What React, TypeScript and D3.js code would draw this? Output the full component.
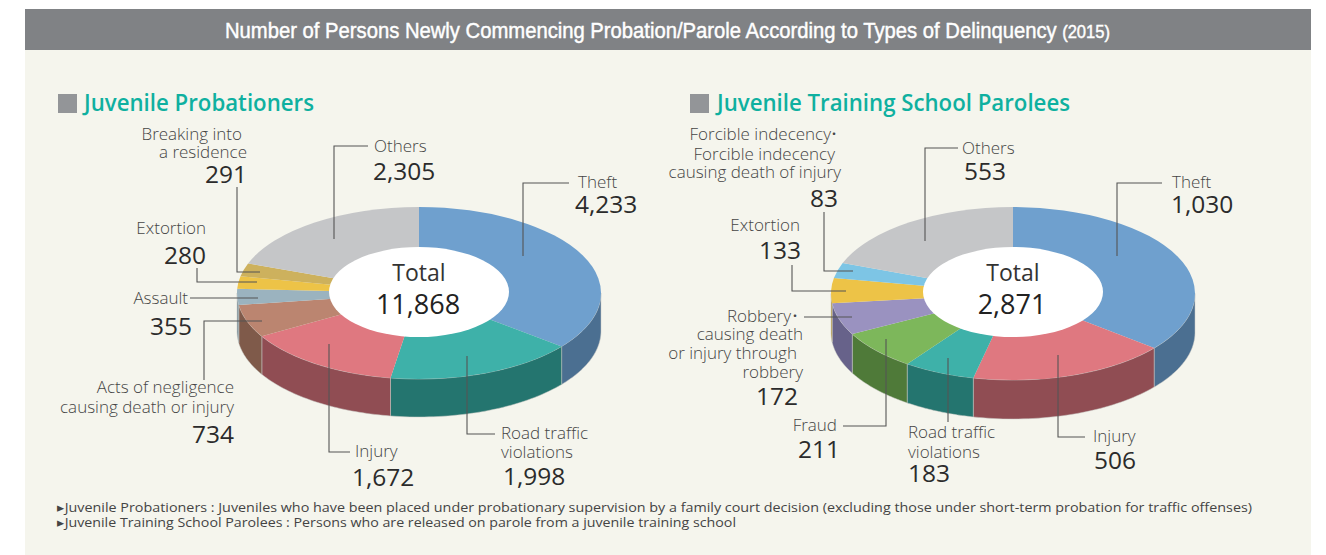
import React from "react";
import * as d3 from "d3";

const leftNames = ["Theft", "Road traffic", "Injury", "Negligence", "Assault", "Extortion", "Breaking", "Others"];
const leftValues = [4233, 1998, 1672, 734, 355, 280, 291, 2305];
const leftTop = ["#6fa0ce", "#3eb1a9", "#df7880", "#bb8570", "#9bb3bf", "#edc347", "#cdb15d", "#c5c6c8"];
const leftSide = ["#4b6f91", "#24756f", "#904d53", "#7f5a4a", "#7d929c", "#b8963a", "#a08a48", "#97989a"];

const rightNames = ["Theft", "Injury", "Road traffic", "Fraud", "Robbery", "Extortion", "Forcible", "Others"];
const rightValues = [1030, 506, 183, 211, 172, 133, 83, 553];
const rightTop = ["#6fa0ce", "#df7880", "#3eb1a9", "#7db75b", "#9a92c0", "#edc347", "#7dc5e5", "#c5c6c8"];
const rightSide = ["#4b6f91", "#904d53", "#24756f", "#4f7a39", "#67628a", "#b8963a", "#5f98b0", "#97989a"];

const SANS = "'Open Sans', 'Noto Sans', sans-serif";
const INK = "#454545";
const NUM = "#2b2b2b";

type T = [string, number, number, "start" | "end" | "middle"];
const leftLabels: T[] = [
  ["Breaking into", 242, 140, "end"], ["a residence", 247, 158, "end"],
  ["Extortion", 206, 234, "end"], ["Assault", 188, 304, "end"],
  ["Acts of negligence", 234, 393, "end"], ["causing death or injury", 234, 413, "end"],
  ["Injury", 355, 457, "start"], ["Road traffic", 501, 439, "start"], ["violations", 501, 458, "start"],
  ["Theft", 578, 188, "start"], ["Others", 374, 152, "start"],
];
const leftNums: T[] = [
  ["291", 247, 183, "end"], ["280", 206, 264, "end"], ["355", 192, 335, "end"], ["734", 234, 443, "end"],
  ["1,672", 352, 486, "start"], ["1,998", 503, 485, "start"], ["4,233", 575, 213, "start"], ["2,305", 373, 180, "start"],
];
const rightLabels: T[] = [
  ["Forcible indecency", 831, 140, "end"], ["Forcible indecency", 835, 160, "end"], ["causing death of injury", 841, 178, "end"],
  ["Extortion", 800, 231, "end"], ["Robbery", 791, 322, "end"], ["causing death", 803, 340, "end"],
  ["or injury through", 797, 359, "end"], ["robbery", 803, 378, "end"], ["Fraud", 837, 431, "end"],
  ["Road traffic", 908, 438, "start"], ["violations", 908, 458, "start"], ["Injury", 1093, 442, "start"],
  ["Theft", 1172, 188, "start"], ["Others", 962, 154, "start"],
];
const rightDots: T[] = [["・", 834, 139, "middle"], ["・", 795, 321, "middle"]];
const rightNums: T[] = [
  ["83", 838, 207, "end"], ["133", 801, 259, "end"], ["172", 798, 405, "end"], ["211", 840, 458, "end"],
  ["183", 908, 482, "start"], ["506", 1094, 469, "start"], ["1,030", 1171, 213, "start"], ["553", 964, 180, "start"],
];
const leaders: [number, number][][] = [
  [[569, 183], [523, 183], [523, 256]], [[368, 146], [334, 146], [334, 239]],
  [[237, 187], [237, 272], [260, 272]], [[197, 268], [197, 282], [257, 282]],
  [[190, 298], [258, 298]], [[204, 380], [204, 321], [262, 321]],
  [[329, 344], [329, 452], [350, 452]], [[467, 356], [467, 434], [495, 434]],
  [[1162, 183], [1117, 183], [1117, 256]], [[958, 148], [925, 148], [925, 241]],
  [[824, 212], [824, 271], [853, 271]], [[792, 265], [792, 291], [846, 291]],
  [[804, 317], [852, 317]], [[843, 426], [886, 426], [886, 339]],
  [[948, 358], [948, 422]], [[1058, 355], [1058, 437], [1085, 437]],
];

const RX = 182, HRX = 90, HRY = 45;

function Pie({ cx, cy, ry, depth, values, top, side, total }: { cx: number; cy: number; ry: number; depth: number; values: number[]; top: string[]; side: string[]; total: string }) {
  const arcs = d3.pie<number>().sort(null)(values);
  const arc = d3.arc<d3.PieArcDatum<number>>().innerRadius(0).outerRadius(RX);
  const px = d3.scaleLinear().domain([-1, 1]).range([cx - RX, cx + RX]);
  const py = d3.scaleLinear().domain([-1, 1]).range([cy - ry, cy + ry]);
  const line = d3.line<number[]>();
  const walls = arcs.map((a, i) => {
    const s = Math.max(a.startAngle, Math.PI / 2);
    const e = Math.min(a.endAngle, (3 * Math.PI) / 2);
    if (e <= s) return null;
    const angles = d3.range(0, 41).map((k) => s + ((e - s) * k) / 40);
    const upper = angles.map((t) => [px(Math.sin(t)), py(-Math.cos(t))]);
    const lower = upper.slice().reverse().map(([x, y]) => [x, y + depth]);
    return <path key={i} d={line([...upper, ...lower])! + "Z"} fill={side[i]} stroke="#c9c9c4" strokeWidth={0.5} />;
  });
  return (
    <g>
      {walls}
      <g transform={`translate(${cx},${cy}) scale(1,${ry / RX})`}>
        {arcs.map((a, i) => (
          <path key={i} d={arc(a)!} fill={top[i]} />
        ))}
      </g>
      <ellipse cx={cx} cy={292} rx={HRX} ry={HRY} fill="#fff" />
      <text x={cx} y={281} textAnchor="middle" fontFamily={SANS} fontSize={23} fill="#333">Total</text>
      <text x={cx - 1} y={314} textAnchor="middle" fontFamily={SANS} fontSize={27} fontWeight={500} fill="#222">{total}</text>
    </g>
  );
}

export default function App() {
  const path = d3.line();
  const fmt = d3.format(",");
  return (
    <svg width={1326} height={555} style={{ position: "absolute", left: 0, top: 0 }}>
      <rect width={1326} height={555} fill="#fff" />
      <rect x={25} y={50} width={1286} height={505} fill="#f5f5ed" />
      <rect x={25} y={9} width={1286} height={41} fill="#808285" />
      <text x={225} y={38} fontFamily="'Liberation Sans', Arial, sans-serif" fill="#fff" stroke="#fff" strokeWidth={0.45} textLength={885} lengthAdjust="spacingAndGlyphs">
        <tspan fontSize={22}>Number of Persons Newly Commencing Probation/Parole According to Types of Delinquency</tspan>
        <tspan fontSize={18} dx={6}>(2015)</tspan>
      </text>

      <rect x={58} y={94} width={19} height={19} fill="#939598" />
      <text x={84} y={111} fontFamily={SANS} fontSize={24} fontWeight={600} fill="#0fb0a0" textLength={230} lengthAdjust="spacingAndGlyphs">Juvenile Probationers</text>
      <rect x={690} y={94} width={19} height={19} fill="#939598" />
      <text x={717} y={111} fontFamily={SANS} fontSize={24} fontWeight={600} fill="#0fb0a0" textLength={353} lengthAdjust="spacingAndGlyphs">Juvenile Training School Parolees</text>

      <Pie cx={419} cy={293} ry={86} depth={38} values={leftValues} top={leftTop} side={leftSide} total={fmt(d3.sum(leftValues))} />
      <Pie cx={1013} cy={293.5} ry={86.5} depth={39} values={rightValues} top={rightTop} side={rightSide} total={fmt(d3.sum(rightValues))} />

      {leaders.map((l, i) => (
        <path key={i} d={path(l)!} fill="none" stroke="#555" strokeWidth={1.1} />
      ))}
      {[...leftLabels, ...rightLabels].map(([t, x, y, a], i) => (
        <text key={i} x={x} y={y} textAnchor={a} fontFamily={SANS} fontSize={17} fontWeight={300} fill={INK}>{t}</text>
      ))}
      {rightDots.map(([t, x, y, a], i) => (
        <text key={i} x={x} y={y} textAnchor={a} fontFamily="'Noto Sans CJK JP', sans-serif" fontSize={12} fill={INK}>{t}</text>
      ))}
      {[...leftNums, ...rightNums].map(([t, x, y, a], i) => (
        <text key={i} x={x} y={y} textAnchor={a} fontFamily={SANS} fontSize={24.5} fill={NUM}>{t}</text>
      ))}
      <text x={57} y={512} fontFamily={SANS} fontSize={13} fill="#444" textLength={1195} lengthAdjust="spacingAndGlyphs">▸Juvenile Probationers : Juveniles who have been placed under probationary supervision by a family court decision (excluding those under short-term probation for traffic offenses)</text>
      <text x={57} y={527} fontFamily={SANS} fontSize={13} fill="#444" textLength={679} lengthAdjust="spacingAndGlyphs">▸Juvenile Training School Parolees : Persons who are released on parole from a juvenile training school</text>
    </svg>
  );
}
